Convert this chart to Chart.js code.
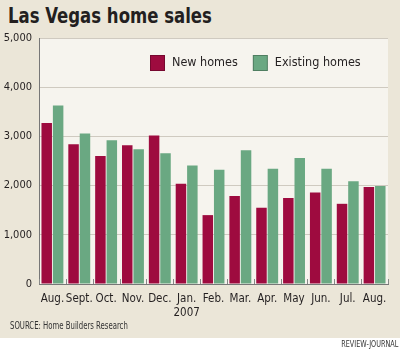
<!DOCTYPE html>
<html>
<head>
<meta charset="utf-8">
<script src="https://cdn.jsdelivr.net/npm/chart.js@4/dist/chart.umd.min.js"></script>
<style>
  html, body { margin: 0; padding: 0; }
  body {
    width: 400px; height: 350px; background: #ebe6d8;
    position: relative; overflow: hidden;
    font-family: 'DejaVu Sans Condensed', 'Open Sans', sans-serif;
  }
  #titulo { position: absolute; left: 8px; top: 4px; font-size: 21px; font-weight: bold; color: #231f20;
            transform: scaleX(0.875); transform-origin: left top; white-space: nowrap; }
  #fonte { position: absolute; left: 10px; top: 319px; font-size: 11px; color: #333;
           transform: scaleX(0.7); transform-origin: left top; white-space: nowrap; }
  #rodape { position: absolute; left: 0; top: 338px; width: 400px; height: 12px; background: #fff; }
  #credito { position: absolute; right: 2px; top: 339px; font-size: 9px; color: #333;
             transform: scaleX(0.8); transform-origin: right top; white-space: nowrap; }
  canvas { position: absolute; left: 0; top: 0; }
</style>
</head>
<body>
<div id="titulo">Las Vegas home sales</div>
<canvas id="chart1" width="400" height="338"></canvas>
<div id="fonte">SOURCE: Home Builders Research</div>
<div id="rodape"></div>
<div id="credito">REVIEW-JOURNAL</div>
<script>
const ctx = document.getElementById('chart1').getContext('2d');

const fonteNome = "'DejaVu Sans Condensed', 'Open Sans', sans-serif";
const vinho = '#9e0b3f';
const verde = '#6aa882';

let meses = ['Aug.', 'Sept.', 'Oct.', 'Nov.', 'Dec.', ['Jan.', '2007'], 'Feb.', 'Mar.', 'Apr.', 'May', 'Jun.', 'Jul.', 'Aug.'];
let valoresNovas = [3270, 2840, 2600, 2820, 3020, 2040, 1400, 1790, 1550, 1750, 1860, 1630, 1970];
let valoresExistentes = [3630, 3060, 2920, 2740, 2660, 2410, 2320, 2720, 2340, 2560, 2340, 2090, 1990];
let ticksY = [0, 1000, 2000, 3000, 4000, 5000];

// fundo claro da area do grafico
const fundoArea = {
  id: 'fundoArea',
  beforeDraw(chart) {
    const a = chart.chartArea;
    chart.ctx.save();
    chart.ctx.fillStyle = '#f6f4ee';
    chart.ctx.fillRect(a.left, a.top, a.right - a.left, a.bottom - a.top);
    chart.ctx.restore();
  }
};

// tracinhos entre os meses, subindo do eixo
const tracinhos = {
  id: 'tracinhos',
  afterDraw(chart) {
    const c = chart.ctx;
    const sx = chart.scales.x;
    const base = chart.chartArea.bottom;
    c.save();
    c.strokeStyle = '#888';
    c.lineWidth = 1;
    for (let i = 0; i <= meses.length; i++) {
      const px = Math.round(sx.getPixelForValue(i - 0.5)) + 0.5;
      c.beginPath();
      c.moveTo(px, base);
      c.lineTo(px, base - 5);
      c.stroke();
    }
    c.restore();
  }
};

// legenda dentro da area, no alto
const legendaDentro = {
  id: 'legendaDentro',
  afterDraw(chart) {
    const c = chart.ctx;
    let x = 150;
    const y = chart.chartArea.top + 25;
    c.save();
    c.font = '12.5px ' + fonteNome;
    c.textBaseline = 'middle';
    chart.data.datasets.forEach(ds => {
      c.fillStyle = ds.backgroundColor;
      c.fillRect(x, y - 8, 15, 16);
      c.strokeStyle = 'rgba(0,0,0,0.25)';
      c.lineWidth = 1;
      c.strokeRect(x + 0.5, y - 7.5, 14, 15);
      c.fillStyle = '#231f20';
      c.fillText(ds.label, x + 22, y);
      x += 22 + c.measureText(ds.label).width + 15;
    });
    c.restore();
  }
};

new Chart(ctx, {
  type: 'bar',
  data: {
    labels: meses,
    datasets: [{
      label: 'New homes',
      backgroundColor: vinho,
      data: valoresNovas,
      borderWidth: 0
    }, {
      label: 'Existing homes',
      backgroundColor: verde,
      data: valoresExistentes,
      borderWidth: 0
    }]
  },
  options: {
    responsive: false,
    animation: false,
    layout: { padding: { top: 38, right: 12, left: 0, bottom: 0 } },
    datasets: { bar: { barPercentage: 0.92, categoryPercentage: 0.85 } },
    scales: {
      y: {
        min: 0,
        max: 5000,
        afterFit(s) { s.width = 39; },
        afterBuildTicks(s) { s.ticks = ticksY.map(v => ({ value: v })); },
        border: { color: '#777', width: 1 },
        grid: { color: '#cfcac0', drawTicks: false },
        ticks: {
          padding: 7,
          color: '#231f20',
          font: { family: fonteNome, size: 11 },
          callback: v => v.toLocaleString('en-US')
        }
      },
      x: {
        afterFit(s) { s.height = 54; },
        border: { color: '#777', width: 1 },
        grid: { drawOnChartArea: false, drawTicks: false },
        ticks: {
          padding: 8,
          maxRotation: 0,
          autoSkip: false,
          color: '#231f20',
          font: { family: fonteNome, size: 11.5 }
        }
      }
    },
    plugins: {
      legend: { display: false },
      tooltip: { enabled: false }
    }
  },
  plugins: [fundoArea, tracinhos, legendaDentro]
});
</script>
</body>
</html>
